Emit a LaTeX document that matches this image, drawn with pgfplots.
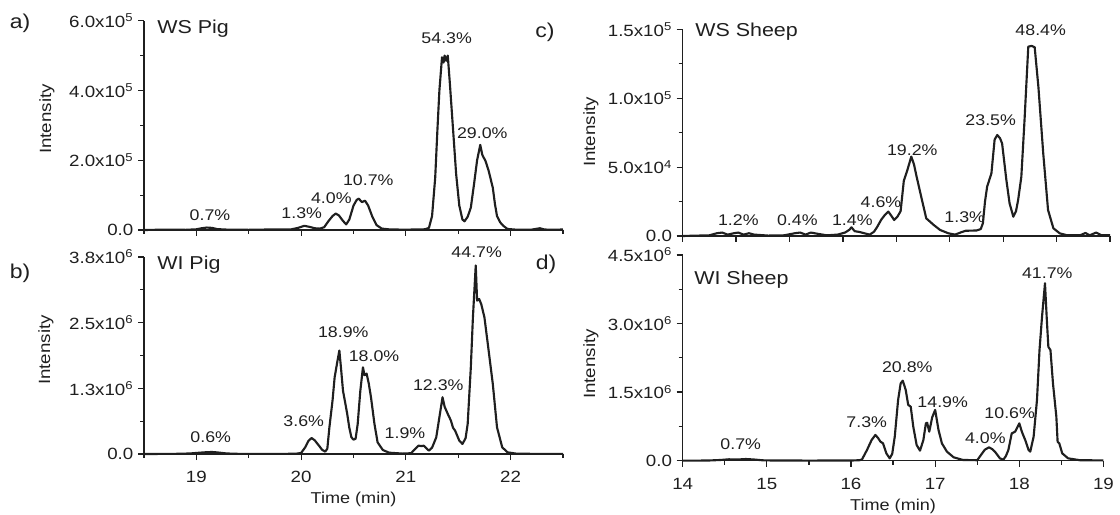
\documentclass[border=0pt]{standalone}
\usepackage{fontspec}
\setmainfont{Liberation Sans}[FakeStretch=1.15]
\usepackage{pgfplots}
\pgfplotsset{compat=1.18}

\colorlet{ink}{black!88}

\pgfplotsset{
  chrom/.style={
    scale only axis, enlargelimits=false, clip=false,
    axis x line*=bottom, axis y line*=left,
    axis line style={-, line width=1pt, ink},
    tick align=outside,
    major tick length=4.5pt, minor tick length=3pt,
    every tick/.style={line width=0.9pt, ink},
    tick label style={font=\fontsize{12.2}{14}\selectfont, text=ink},
    xticklabel style={yshift=-5pt},
    /pgf/number format/assume math mode=true,
    scaled ticks=false, ymin=0,
    minor y tick num=1,
    xlabel style={font=\fontsize{11.8}{14}\selectfont, text=ink},
  },
  trace/.style={ink, line width=1.6pt, line join=round, no marks},
}

\begin{document}
\begin{tikzpicture}
\path[use as bounding box] (0,0) rectangle (840pt,385.5pt);

% a) WS Pig
\begin{axis}[chrom, at={(108pt,213pt)}, anchor=south west,
  width=314.25pt, height=157pt,
  xmin=18.5, xmax=22.5, ymax=6e5,
  xtick={19,20,21,22}, minor xtick={18.5,19.5,20.5,21.5,22.5}, xticklabels={},
  ytick={0,2e5,4e5,6e5},
  yticklabels={0.0, 2.0x10\textsuperscript{5}, 4.0x10\textsuperscript{5}, 6.0x10\textsuperscript{5}}]
\addplot[trace] coordinates {
 (18.5,0) (18.7,1000) (18.9,500) (19.0,2000) (19.05,5000) (19.1,7000) (19.15,6000)
 (19.2,2500) (19.3,1000) (19.5,500) (19.7,1500) (19.9,1500) (19.97,6000) (20.03,12000)
 (20.08,9000) (20.13,5000) (20.18,4000) (20.22,8000) (20.26,25000) (20.30,40000)
 (20.33,47000) (20.36,42000) (20.40,26000) (20.43,16000) (20.46,30000) (20.50,70000)
 (20.53,86000) (20.55,90000) (20.58,80000) (20.61,84000) (20.64,70000) (20.68,38000)
 (20.72,14000) (20.77,4000) (20.85,1500) (21.0,1000) (21.1,1500) (21.18,2000)
 (21.22,6000) (21.25,40000) (21.28,150000) (21.30,280000) (21.32,400000)
 (21.345,495000) (21.36,480000) (21.37,500000) (21.385,485000) (21.40,500000)
 (21.42,420000) (21.45,290000) (21.48,160000) (21.51,70000) (21.54,30000)
 (21.56,25000) (21.59,38000) (21.62,64000) (21.65,130000) (21.68,200000)
 (21.71,244000) (21.73,215000) (21.76,198000) (21.79,170000) (21.83,121000)
 (21.85,75000) (21.87,40000) (21.90,22000) (21.93,12000) (21.97,3000) (22.05,1000)
 (22.2,1000) (22.28,5000) (22.32,1500) (22.4,500) (22.5,1500)
};
\end{axis}

% b) WI Pig
\begin{axis}[chrom, at={(108pt,45pt)}, anchor=south west,
  width=314.25pt, height=147.75pt,
  xmin=18.5, xmax=22.5, ymax=3.75e6,
  xtick={19,20,21,22}, minor xtick={18.5,19.5,20.5,21.5,22.5},
  xlabel={Time (min)},
  ytick={0,1.25e6,2.5e6,3.75e6},
  yticklabels={0.0, 1.3x10\textsuperscript{6}, 2.5x10\textsuperscript{6}, 3.8x10\textsuperscript{6}}]
\addplot[trace] coordinates {
 (18.5,0) (18.8,3000) (18.94,10000) (19.0,20000) (19.1,35000) (19.15,38000)
 (19.2,30000) (19.29,10000) (19.4,3000) (19.6,2000) (19.8,2000) (19.95,5000)
 (20.0,20000) (20.04,130000) (20.07,250000) (20.10,305000) (20.13,260000)
 (20.17,160000) (20.20,80000) (20.23,45000) (20.25,100000) (20.27,508000)
 (20.30,1020000) (20.32,1460000) (20.345,1750000) (20.365,1970000) (20.38,1650000)
 (20.40,1200000) (20.42,985000) (20.44,763000) (20.46,500000) (20.48,318000)
 (20.50,273000) (20.52,290000) (20.54,572000) (20.565,1200000) (20.59,1650000)
 (20.605,1500000) (20.625,1530000) (20.645,1350000) (20.667,1080000) (20.70,572000)
 (20.73,222000) (20.78,76000) (20.84,25000) (20.97,8000) (21.05,15000)
 (21.09,100000) (21.12,159000) (21.15,150000) (21.17,159000) (21.20,100000)
 (21.22,64000) (21.25,120000) (21.29,318000) (21.32,700000) (21.35,1080000)
 (21.37,900000) (21.40,763000) (21.43,636000) (21.45,500000) (21.47,445000)
 (21.51,254000) (21.54,191000) (21.57,300000) (21.59,572000) (21.62,1650000)
 (21.64,2600000) (21.667,3590000) (21.68,2920000) (21.70,2950000) (21.72,2850000)
 (21.75,2600000) (21.79,1970000) (21.83,1330000) (21.87,508000) (21.92,127000)
 (21.97,32000) (22.05,8000) (22.2,3000) (22.5,3000)
};
\end{axis}

% c) WS Sheep
\begin{axis}[chrom, at={(512pt,208.5pt)}, anchor=south west,
  width=320.5pt, height=155pt,
  xmin=14, xmax=18, ymax=1.5e5,
  xtick={14,14.5,...,18}, xticklabels={},
  ytick={0,5e4,1e5,1.5e5},
  yticklabels={0.0, 5.0x10\textsuperscript{4}, 1.0x10\textsuperscript{5}, 1.5x10\textsuperscript{5}}]
\addplot[trace] coordinates {
 (14.0,0) (14.25,500) (14.32,2000) (14.37,2500) (14.42,1000) (14.48,2000)
 (14.52,2500) (14.57,1000) (14.62,2000) (14.67,1000) (14.8,300) (14.95,500)
 (15.05,2000) (15.1,2500) (15.15,1000) (15.2,2500) (15.27,1500) (15.35,500)
 (15.45,1000) (15.52,2500) (15.56,4500) (15.58,6300) (15.61,3500) (15.65,3000)
 (15.70,2000) (15.75,1000) (15.79,3000) (15.82,6500) (15.86,12000) (15.89,15000)
 (15.925,17700) (15.95,15000) (15.98,11600) (16.01,14000) (16.04,18000)
 (16.07,40000) (16.10,47000) (16.14,57600) (16.165,52000) (16.19,43000)
 (16.24,26100) (16.28,12800) (16.35,8000) (16.41,4350) (16.49,1900) (16.55,1000)
 (16.60,2500) (16.65,3800) (16.75,4000) (16.79,5000) (16.81,9200) (16.83,25000)
 (16.85,35800) (16.89,45500) (16.92,70000) (16.945,73300) (16.97,71000)
 (16.99,67200) (17.03,40600) (17.06,23700) (17.095,14000) (17.12,18000)
 (17.14,26100) (17.17,43000) (17.20,84200) (17.235,137400) (17.265,138000)
 (17.295,137000) (17.33,108000) (17.375,60000) (17.42,18900) (17.47,5600)
 (17.53,1900) (17.6,500) (17.72,500) (17.77,2200) (17.81,500) (17.87,2500)
 (17.92,500) (18.0,500)
};
\end{axis}

% d) WI Sheep
\begin{axis}[chrom, at={(512pt,40pt)}, anchor=south west,
  width=315.6pt, height=154.3pt,
  xmin=14, xmax=19, ymax=4.5e6,
  xtick={14,...,19}, minor xtick={14.5,15.5,16.5,17.5,18.5},
  xlabel={Time (min)},
  ytick={0,1.5e6,3e6,4.5e6},
  yticklabels={0.0, 1.5x10\textsuperscript{6}, 3.0x10\textsuperscript{6}, 4.5x10\textsuperscript{6}}]
\addplot[trace] coordinates {
 (14.0,0) (14.3,3000) (14.45,15000) (14.55,30000) (14.65,25000) (14.75,36000)
 (14.85,25000) (14.95,8000) (15.1,3000) (15.5,2000) (16.0,3000) (16.10,10000)
 (16.13,25000) (16.19,233000) (16.245,452000) (16.29,562000) (16.32,500000)
 (16.35,416000) (16.38,380000) (16.42,160000) (16.46,51000) (16.49,150000)
 (16.52,525000) (16.56,1330000) (16.59,1690000) (16.615,1750000) (16.65,1550000)
 (16.68,1220000) (16.71,1180000) (16.74,744000) (16.78,343000) (16.82,219000)
 (16.86,452000) (16.89,817000) (16.905,830000) (16.93,634000) (16.965,950000)
 (17.0,1110000) (17.04,671000) (17.08,379000) (17.14,197000) (17.22,73000)
 (17.33,15000) (17.5,10000) (17.53,87500) (17.59,240000) (17.64,292000)
 (17.68,250000) (17.71,197000) (17.77,51000) (17.81,20000) (17.84,100000)
 (17.87,233000) (17.91,598000) (17.95,634000) (18.0,817000) (18.03,634000)
 (18.07,452000) (18.11,233000) (18.13,197000) (18.17,525000) (18.21,1330000)
 (18.24,2420000) (18.27,3150000) (18.305,3880000) (18.325,3150000)
 (18.345,2490000) (18.37,2420000) (18.40,1690000) (18.44,963000) (18.455,416000)
 (18.475,379000) (18.51,160000) (18.58,51000) (18.72,10000) (18.85,8000) (19.0,5000)
};
\end{axis}

% labels, placed in pixel units of the reference (origin top left)
\begin{scope}[x=0.75pt, y=-0.75pt, yshift=385.5pt,
  every node/.style={inner sep=0pt, text=ink}]
  \begin{scope}[font=\fontsize{15}{17}\selectfont]
    \node at (20,23) {a)};
    \node at (20,273) {b)};
    \node at (545,32) {c)};
    \node at (546,264) {d)};
  \end{scope}
  \begin{scope}[font=\fontsize{14}{16}\selectfont]
    \node[anchor=west] at (157,29) {WS Pig};
    \node[anchor=west] at (157,265) {WI Pig};
    \node[anchor=west] at (695,32) {WS Sheep};
    \node[anchor=west] at (694,280) {WI Sheep};
  \end{scope}
  \begin{scope}[font=\fontsize{12.2}{14}\selectfont]
    \node[rotate=90] at (47,119) {Intensity};
    \node[rotate=90] at (46,350) {Intensity};
    \node[rotate=90] at (591,132) {Intensity};
    \node[rotate=90] at (591,364) {Intensity};
  \end{scope}
  \begin{scope}[font=\fontsize{11.6}{13}\selectfont]
    % a
    \node at (210,215) {0.7\%};
    \node at (301.7,213.3) {1.3\%};
    \node at (331.3,198.3) {4.0\%};
    \node at (368.3,180) {10.7\%};
    \node at (446.7,38.3) {54.3\%};
    \node at (482.3,133.3) {29.0\%};
    % b
    \node at (210.7,437.3) {0.6\%};
    \node at (303.7,420.7) {3.6\%};
    \node at (343.3,331.7) {18.9\%};
    \node at (374,356) {18.0\%};
    \node at (405,432.7) {1.9\%};
    \node at (438.3,385) {12.3\%};
    \node at (476.7,251.7) {44.7\%};
    % c
    \node at (738.3,220) {1.2\%};
    \node at (797.3,220) {0.4\%};
    \node at (852.3,220) {1.4\%};
    \node at (881,201.7) {4.6\%};
    \node at (912.3,150) {19.2\%};
    \node at (964.7,216.7) {1.3\%};
    \node at (990.7,120) {23.5\%};
    \node at (1040.7,30) {48.4\%};
    % d
    \node at (740.7,444.3) {0.7\%};
    \node at (866.7,421.7) {7.3\%};
    \node at (907.3,366.7) {20.8\%};
    \node at (942.7,401.7) {14.9\%};
    \node at (985.3,438.3) {4.0\%};
    \node at (1009.7,413.3) {10.6\%};
    \node at (1047.3,273.3) {41.7\%};
  \end{scope}
\end{scope}
\end{tikzpicture}
\end{document}
